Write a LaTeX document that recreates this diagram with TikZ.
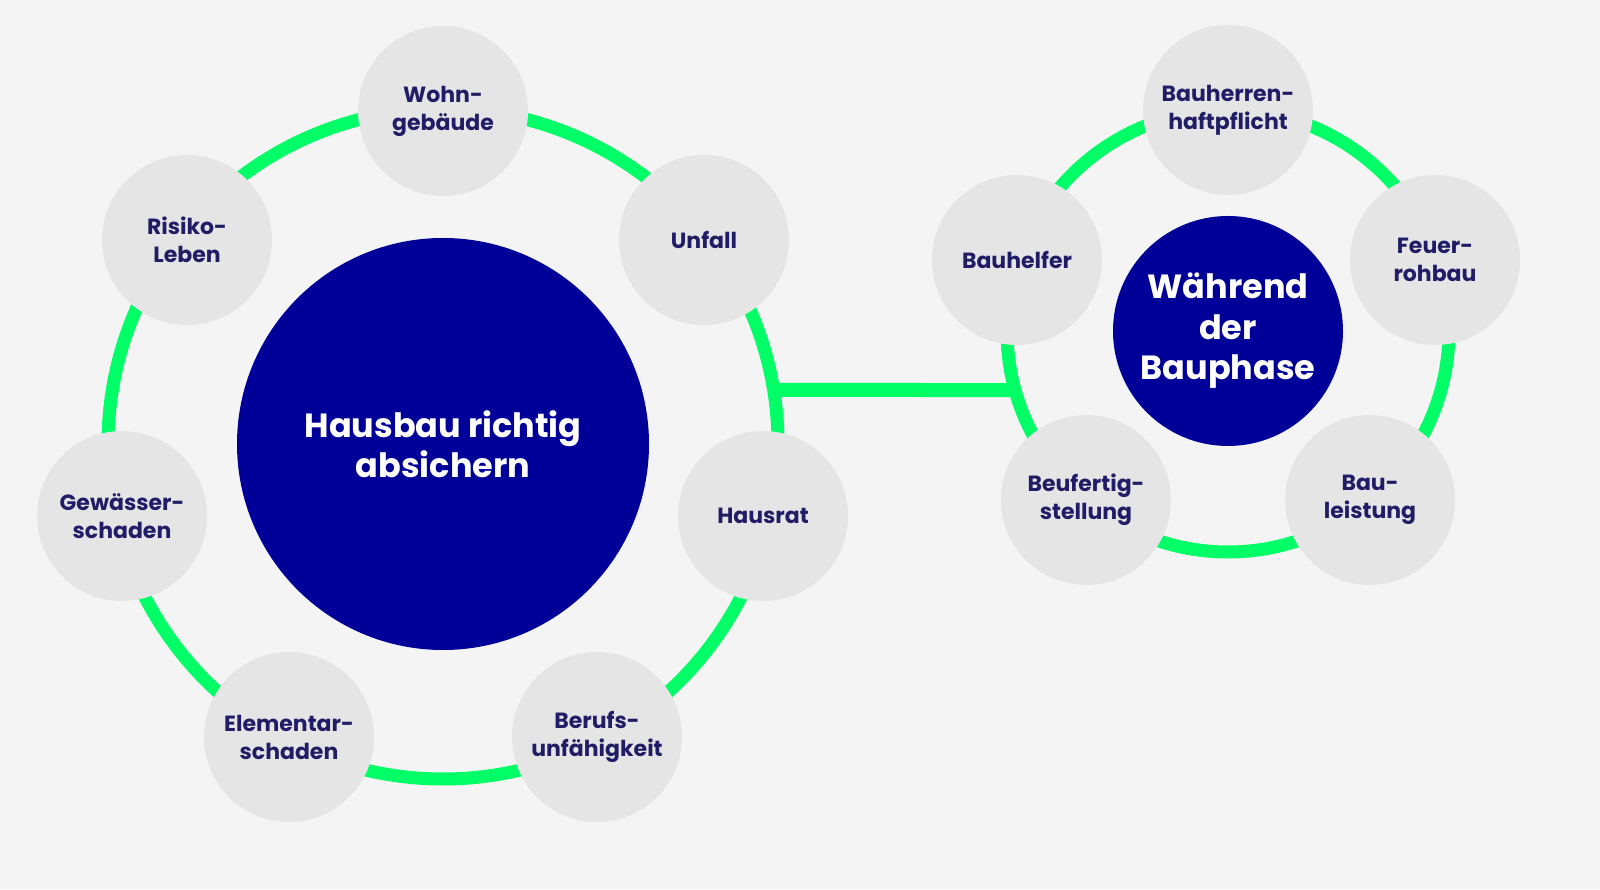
\documentclass[tikz,border=0pt]{standalone}
\usepackage{fontspec}
\setmainfont{Poppins}
\definecolor{bgGray}{RGB}{244,244,244}
\definecolor{ringGreen}{RGB}{0,255,102}
\definecolor{hubBlue}{RGB}{0,0,153}
\definecolor{topicGray}{RGB}{229,229,229}
\definecolor{topicText}{RGB}{32,28,102}

\begin{document}
\begin{tikzpicture}[x=1pt, y=1pt,
  hub/.style={circle, fill=hubBlue, text=white, inner sep=0pt, align=center, font=\bfseries\fontsize{33.5}{40.5}\selectfont},
  topic/.style={circle, fill=topicGray, text=topicText, minimum size=170pt, inner sep=0pt, align=center, font=\bfseries\fontsize{22}{28}\selectfont},
  ring/.style={draw=ringGreen, line width=13pt},
  bar/.style={draw=ringGreen, line width=14pt}]
\fill[bgGray] (0,0) rectangle (1600,889);
\useasboundingbox (0,0) rectangle (1600,889);

\node (hausbau) [hub, minimum size=412pt] at (443,445) {Hausbau richtig\\absichern};
\node (bauphase) [hub, minimum size=230pt] at (1228,558) {Während\\der\\Bauphase};

% rings and the link between them
\draw[ring] (hausbau.center) circle[radius=335];
\draw[ring] (bauphase.center) circle[radius=221];
\coordinate (joinL) at ([shift={(9.28:335)}]hausbau.center);
\coordinate (joinR) at ([shift={(195.49:221)}]bauphase.center);
\draw[bar] (joinL) -- (joinR);

% left ring
\node (wohn) [topic] at (443,778) {Wohn-\\gebäude};
\node (unfall) [topic] at (704,649) {Unfall};
\node (hausrat) [topic] at (763,373) {Hausrat};
\node (berufs) [topic] at (597,152) {Berufs-\\unfähigkeit};
\node (elementar) [topic] at (289,152) {Elementar-\\schaden};
\node (gewaesser) [topic] at (122,373) {Gewässer-\\schaden};
\node (risiko) [topic] at (187,649) {Risiko-\\Leben};

% right ring
\node (bauherren) [topic] at (1228,779) {Bauherren-\\haftpflicht};
\node (feuer) [topic] at (1435,629) {Feuer-\\rohbau};
\node (bauleistung) [topic] at (1370,389) {Bau-\\leistung};
\node (fertig) [topic] at (1086,389) {Beufertig-\\stellung};
\node (bauhelfer) [topic] at (1017,629) {Bauhelfer};
\end{tikzpicture}
\end{document}
